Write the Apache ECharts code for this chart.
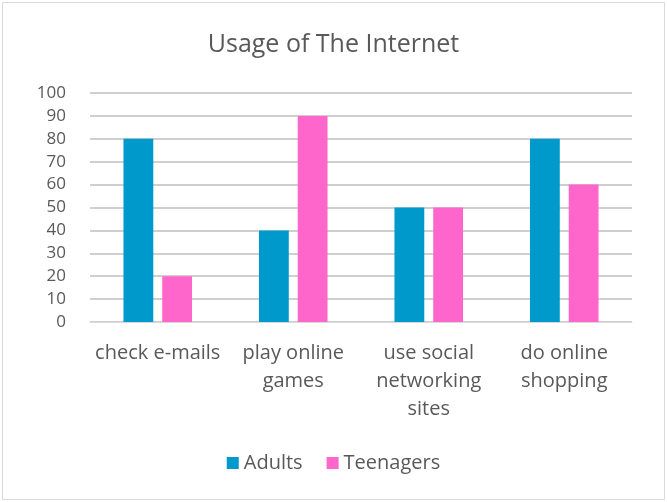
<!DOCTYPE html>
<html><head><meta charset="utf-8">
<script src="https://cdn.jsdelivr.net/npm/echarts@6/dist/echarts.min.js"></script>
<style>html,body{margin:0;padding:0;background:#fff}#c{width:667px;height:502px;}</style>
</head><body><div id="c"></div>
<script>
const categories = ["check e-mails", "play online\ngames", "use social\nnetworking\nsites", "do online\nshopping"];
const adults = [80, 40, 50, 80];
const teenagers = [20, 90, 50, 60];
const yTicks = [0, 10, 20, 30, 40, 50, 60, 70, 80, 90, 100];
const seriesNames = ["Adults", "Teenagers"];

const chart = echarts.init(document.getElementById('c'), null, {renderer: 'canvas'});
const font = '"Open Sans", "Liberation Sans", sans-serif';
chart.setOption({
  animation: false,
  backgroundColor: '#fff',
  graphic: [{type: 'rect', shape: {x: 2.5, y: 2.5, width: 662, height: 497}, style: {fill: 'none', stroke: '#d9d9d9', lineWidth: 1}}],
  title: {text: 'Usage of The Internet', left: 'center', top: 27,
    textStyle: {fontFamily: font, fontWeight: 'normal', fontSize: 25, color: '#595959'}},
  legend: {data: seriesNames, bottom: 24, left: 'center', itemWidth: 12, itemHeight: 12, itemGap: 24,
    icon: 'rect', textStyle: {fontFamily: font, fontSize: 20, color: '#595959'}},
  grid: {left: 90, right: 35, top: 93, bottom: 180},
  xAxis: {type: 'category', data: categories,
    axisLine: {lineStyle: {color: '#d9d9d9', width: 1}}, axisTick: {show: false},
    axisLabel: {interval: 0, fontFamily: font, fontSize: 20, color: '#595959', margin: 17, lineHeight: 28}},
  yAxis: {type: 'value', min: yTicks[0], max: yTicks[yTicks.length - 1], interval: 10,
    axisLine: {show: false}, axisTick: {show: false},
    splitLine: {lineStyle: {color: '#bfbfbf', width: 1.5}},
    axisLabel: {fontFamily: font, fontSize: 17, color: '#595959', margin: 24}},
  series: [
    {name: seriesNames[0], type: 'bar', data: adults, barWidth: '22%', barGap: '30%', itemStyle: {color: '#0099CC'}},
    {name: seriesNames[1], type: 'bar', data: teenagers, barWidth: '22%', barGap: '30%', itemStyle: {color: '#FF66CC'}}
  ]
});
</script></body></html>
